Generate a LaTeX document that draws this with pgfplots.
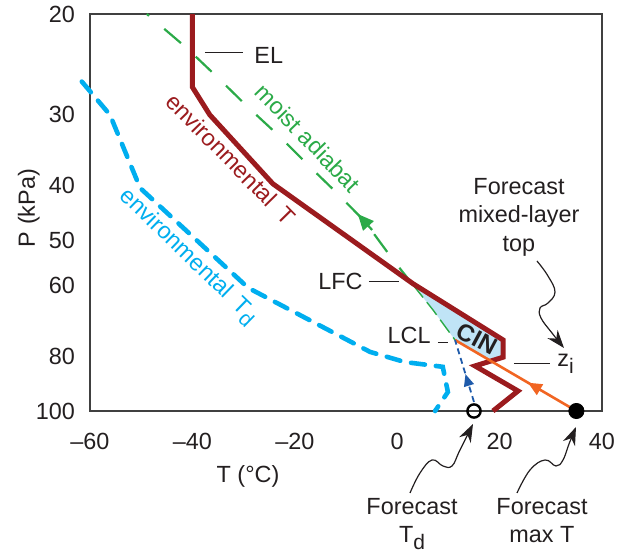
\documentclass[border=0pt]{standalone}
\usepackage{pgfplots}
\pgfplotsset{compat=1.18}
\usepackage{fontspec}
\setmainfont{Liberation Sans}
\usetikzlibrary{calc,arrows.meta,decorations.markings}
\definecolor{envT}{RGB}{155,27,30}
\definecolor{moist}{RGB}{43,170,72}
\definecolor{tdblue}{RGB}{0,174,239}
\definecolor{cinfill}{RGB}{192,228,246}
\definecolor{orng}{RGB}{241,101,34}
\definecolor{dkblue}{RGB}{30,90,170}
\definecolor{txt}{RGB}{35,31,32}
\begin{document}
\begin{tikzpicture}[font=\fontsize{11.7}{14}\selectfont]
\begin{axis}[
  scale only axis, width=256pt, height=198.5pt,
  xmin=-60, xmax=40, ymin=20, ymax=100, ymode=log, y dir=reverse,
  xtick={-60,-40,-20,0,20,40}, xticklabels={--60,--40,--20,0,20,40},
  ytick={20,30,40,50,60,80,100}, yticklabels={20,30,40,50,60,80,100},
  minor ytick={}, major tick length=0pt, minor tick length=0pt,
  xticklabel style={yshift=-7.5pt, text=txt},
  yticklabel style={xshift=-4.0pt, text=txt},
  tick label style={font=\fontsize{11.7}{14}\selectfont},
  axis line style={line width=0.7pt, black!75},
  clip=false,
]
% CIN area
\addplot[fill=cinfill, draw=none] coordinates {(11.3,75) (7.0,66.4) (3.1,60.0) (20.7,75.0) (20.7,80.4) (18.3,81.6)} -- cycle;
% moist adiabat (upper)
\addplot[moist, line width=1.1pt, dash pattern=on 11pt off 10pt]
  coordinates {(3.1,60.0) (-0.8,54.2) (-6.3,46.4) (-11.8,41.3) (-17.0,37.2) (-22.9,32.9) (-29.1,29.2) (-35.0,25.9) (-41.1,22.96) (-48.9,20)};
% arrow on moist adiabat
\addplot[moist, line width=1.1pt, -{Triangle[length=8pt,width=7pt]}] coordinates {(-4.9,48.0) (-7.7,45.0)};
% moist adiabat (LFC to LCL)
\addplot[moist, line width=0.7pt, dash pattern=on 8pt off 3pt] coordinates {(3.1,60.0) (7.0,66.4) (11.3,75)};
% environmental T
\addplot[envT, line width=2.5pt] coordinates {(-40,20) (-40,26.9) (-36.6,30.1) (-24.3,39.8) (3.1,59.7) (20.7,75.0) (20.7,80.4) (15.2,83.3) (23.6,92.2) (18.7,100)};
% environmental Td
\addplot[tdblue, line width=2.3pt, line cap=round, dash pattern=on 7pt off 5.5pt] coordinates {(-61.6,26.3) (-56.1,30.1) (-50.2,40.5) (-29.1,60.7) (-5.3,78.7) (1.5,82.0) (8.9,83.6) (9.9,92.6) (7.4,100)};
% dry adiabat from forecast max T
\addplot[orng, line width=1.3pt,
  postaction={decorate}, decoration={markings, mark=at position 0.4 with {\arrow{Triangle[length=7pt,width=6pt]}}}]
  coordinates {(35,100) (11.3,75)};
% from forecast Td to LCL
\addplot[dkblue, line width=0.9pt, dash pattern=on 3pt off 2pt,
  postaction={decorate}, decoration={markings, mark=at position 0.45 with {\arrow{Triangle[length=6pt,width=5pt]}}}]
  coordinates {(15,96.4) (11.3,75)};
\addplot[only marks, mark=*, mark size=3.8pt, black] coordinates {(35,100)};
\addplot[only marks, mark=o, mark size=3.3pt, mark options={line width=1.2pt, fill=white}, black] coordinates {(15,100)};
\end{axis}
\begin{scope}[shift={($(current axis.north west)+(-45pt,7pt)$)}, x=0.5pt, y=-0.5pt, text=txt]
  \pgfresetboundingbox
  \path[use as bounding box] (0,0) rectangle (629,552);
  % axis labels
  \node[anchor=base, inner sep=0pt] at (248,483) {T (°C)};
  \node[anchor=base, rotate=90, inner sep=0pt] at (35,208) {P (kPa)};
  % EL, LFC, LCL, zi
  \node[anchor=west, inner sep=0pt] at (254,55) {EL};
  \draw[line width=0.5pt, txt] (205,53) -- (243,53);
  \node[anchor=east, inner sep=0pt] at (363,281) {LFC};
  \draw[line width=0.5pt, txt] (369,282) -- (399,282);
  \node[anchor=east, inner sep=0pt] at (431,335) {LCL};
  \draw[line width=0.5pt, txt] (438,343) -- (448,343);
  \node[anchor=west, inner sep=0pt] at (557,364) {z\raisebox{-0.55ex}{\fontsize{10.5}{12}\selectfont i}};
  \draw[line width=0.5pt, txt] (514,364) -- (550,364);
  % rotated curve labels
  \node[rotate=-45.5, text=envT, inner sep=0pt] at (231,159) {environmental\hspace{0.5em}T};
  \node[rotate=-46, text=moist, inner sep=0pt] at (308,138) {moist adiabat};
  \node[rotate=-44, text=tdblue, inner sep=0pt] at (188,257) {environmental\hspace{0.4em}T\raisebox{-0.5ex}{\fontsize{10.5}{12}\selectfont d}};
  \node[rotate=-28, inner sep=0pt, font=\fontsize{12}{14}\selectfont\bfseries] at (477,339) {CIN};
  % forecast labels
  \node[anchor=base, inner sep=0pt] at (519,195) {Forecast};
  \node[anchor=base, inner sep=0pt] at (519,223) {mixed-layer};
  \node[anchor=base, inner sep=0pt] at (519,252) {top};
  \node[anchor=base, inner sep=0pt] at (412,515) {Forecast};
  \node[anchor=base, inner sep=0pt] at (412,543) {T\raisebox{-0.55ex}{\fontsize{10.5}{12}\selectfont d}};
  \node[anchor=base, inner sep=0pt] at (542,515) {Forecast};
  \node[anchor=base, inner sep=0pt] at (542,543) {max T};
  % wavy arrows
  \draw[-{Stealth[length=9pt,width=6.5pt]}, line width=0.6pt, txt] plot[smooth, tension=0.7] coordinates {(537,261) (548,276) (555,292) (548,303) (540,308) (541,318) (552,333) (564,348)};
  \draw[-{Stealth[length=9pt,width=6.5pt]}, line width=0.6pt, txt] plot[smooth, tension=0.7] coordinates {(410,493) (420,473) (432,460) (443,466) (452,466) (459,452) (466,438) (473,424)};
  \draw[-{Stealth[length=9pt,width=6.5pt]}, line width=0.6pt, txt] plot[smooth, tension=0.7] coordinates {(517,493) (530,470) (545,460) (556,466) (563,460) (569,444) (576,427)};
\end{scope}
\end{tikzpicture}
\end{document}
